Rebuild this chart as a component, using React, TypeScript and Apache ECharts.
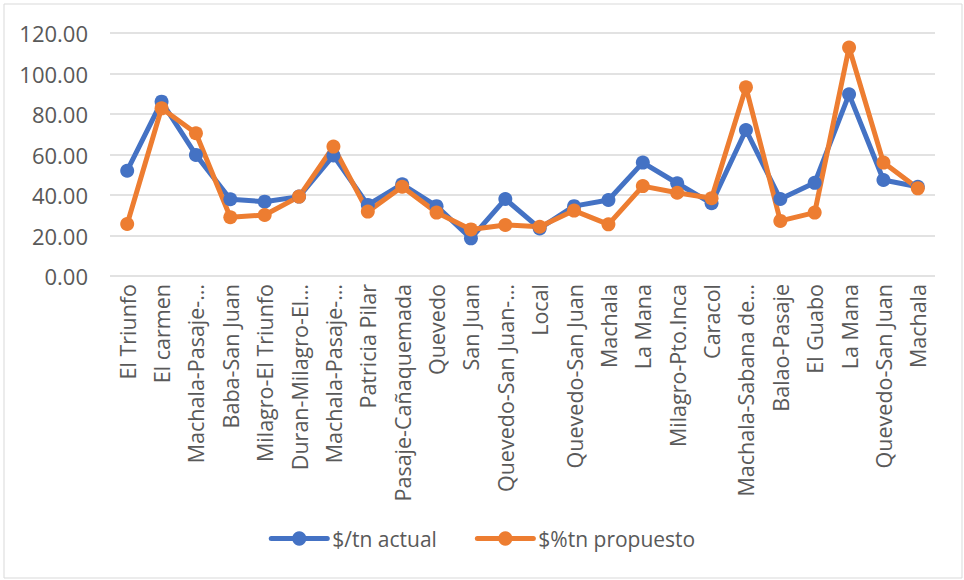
import React, { useEffect, useRef } from "react";
import * as echarts from "echarts";

// Route names as printed under the axis (long ones are shortened with an ellipsis)
const routes: string[] = [
  "El Triunfo",
  "El carmen",
  "Machala-Pasaje-…",
  "Baba-San Juan",
  "Milagro-El Triunfo",
  "Duran-Milagro-El…",
  "Machala-Pasaje-…",
  "Patricia Pilar",
  "Pasaje-Cañaquemada",
  "Quevedo",
  "San Juan",
  "Quevedo-San Juan-…",
  "Local",
  "Quevedo-San Juan",
  "Machala",
  "La Mana",
  "Milagro-Pto.Inca",
  "Caracol",
  "Machala-Sabana de…",
  "Balao-Pasaje",
  "El Guabo",
  "La Mana",
  "Quevedo-San Juan",
  "Machala",
];

// $/tn actual
const actual: number[] = [
  52.0, 86.1, 59.8, 37.9, 36.7, 39.2, 59.5, 35.1, 45.3, 34.5, 18.6, 38.0,
  23.5, 34.5, 37.5, 56.0, 45.8, 35.9, 72.1, 38.0, 46.0, 89.7, 47.4, 44.1,
];

// $%tn propuesto
const proposed: number[] = [
  25.7, 82.8, 70.5, 29.0, 30.1, 39.2, 63.9, 31.8, 44.1, 31.3, 23.0, 25.2,
  24.3, 32.3, 25.5, 44.4, 41.1, 38.4, 93.2, 27.2, 31.3, 112.8, 56.0, 43.3,
];

const seriesNames: string[] = ["$/tn actual", "$%tn propuesto"];

const FONT = "'Open Sans', sans-serif";
const TEXT = "#595959";

export default function App() {
  const ref = useRef<HTMLDivElement>(null);

  useEffect(() => {
    if (!ref.current) return;
    const chart = echarts.init(ref.current, undefined, { renderer: "svg" });
    const lineSeries = (name: string, data: number[], color: string) => ({
      name,
      type: "line",
      data,
      symbol: "circle",
      symbolSize: 14,
      lineStyle: { width: 5, color, cap: "round", join: "round" },
      itemStyle: { color },
    });
    chart.setOption({
      animation: false,
      color: ["#4472C4", "#ED7D31"],
      graphic: [
        {
          type: "rect",
          shape: { x: 4, y: 4, width: 958, height: 574 },
          style: { fill: "none", stroke: "#d9d9d9", lineWidth: 1 },
          silent: true,
        },
      ],
      grid: { left: 110, right: 29, top: 33, bottom: 304, containLabel: false },
      legend: {
        bottom: 26,
        left: "center",
        itemWidth: 56,
        itemHeight: 18,
        itemGap: 38,
        lineStyle: { width: 5, cap: "round" },
        textStyle: { fontFamily: FONT, fontSize: 21, color: TEXT },
        data: seriesNames,
      },
      xAxis: {
        type: "category",
        data: routes,
        boundaryGap: true,
        axisLine: { show: false },
        axisTick: { show: false },
        axisLabel: {
          rotate: 90,
          interval: 0,
          margin: 8,
          fontFamily: FONT,
          fontSize: 21.5,
          color: TEXT,
        },
      },
      yAxis: {
        type: "value",
        min: 0,
        max: 120,
        interval: 20,
        axisLine: { show: false },
        axisTick: { show: false },
        splitLine: { lineStyle: { color: "#d9d9d9", width: 1.5 } },
        axisLabel: {
          formatter: (v: number) => v.toFixed(2),
          fontFamily: FONT,
          fontSize: 22,
          color: TEXT,
          margin: 22,
        },
      },
      series: [
        lineSeries(seriesNames[0], actual, "#4472C4"),
        lineSeries(seriesNames[1], proposed, "#ED7D31"),
      ],
    });
    return () => chart.dispose();
  }, []);

  return (
    <div
      ref={ref}
      style={{ position: "absolute", left: 0, top: 0, width: 964, height: 580, background: "#fff" }}
    />
  );
}
